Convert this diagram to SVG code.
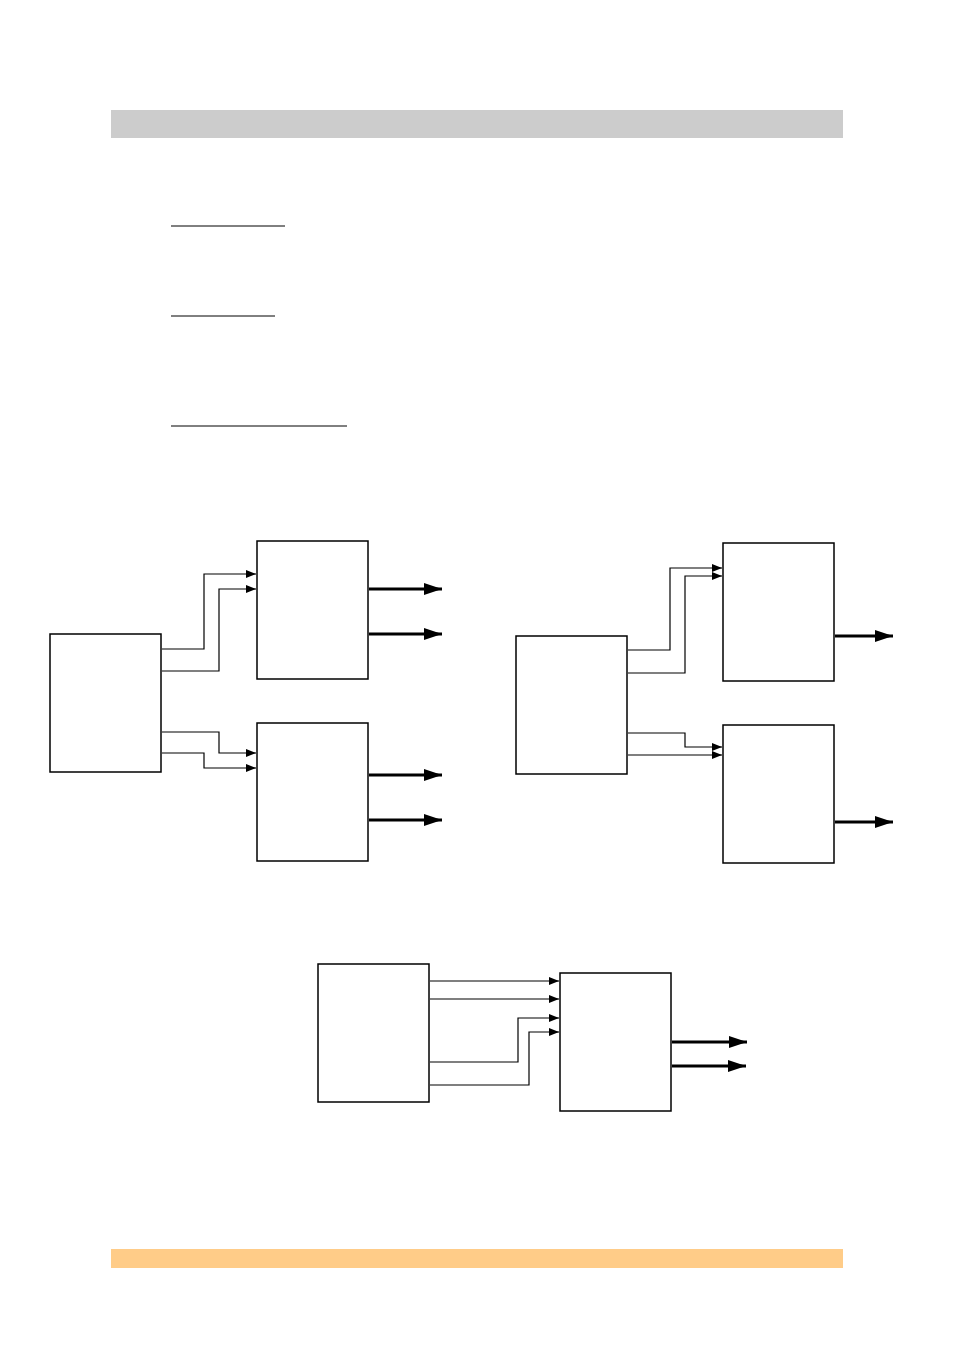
<svg xmlns="http://www.w3.org/2000/svg" width="954" height="1350" viewBox="0 0 954 1350">
<defs>
<marker id="a" markerWidth="10" markerHeight="8" refX="10" refY="4" orient="auto" markerUnits="userSpaceOnUse"><path d="M0,0L10,4L0,8z" fill="#000"/></marker>
<marker id="b" markerWidth="18" markerHeight="12" refX="18" refY="6" orient="auto" markerUnits="userSpaceOnUse"><path d="M0,0L18,6L0,12z" fill="#000"/></marker>
<style>.n{fill:#fff;stroke:#000;stroke-width:1.5}.t{fill:none;stroke:#000;stroke-width:1.2;marker-end:url(#a)}.k{fill:none;stroke:#000;stroke-width:3;marker-end:url(#b)}.u{stroke:#000;stroke-width:1}</style>
</defs>
<rect x="111" y="110" width="732" height="28" fill="#cccccc"/>
<rect x="111" y="1249" width="732" height="19" fill="#ffcc88"/>
<line class="u" x1="171" y1="226" x2="285" y2="226"/>
<line class="u" x1="171" y1="316" x2="275" y2="316"/>
<line class="u" x1="171" y1="426" x2="347" y2="426"/>
<g id="n1"><rect class="n" x="50" y="634" width="111" height="138"/></g>
<g id="n2"><rect class="n" x="257" y="541" width="111" height="138"/></g>
<g id="n3"><rect class="n" x="257" y="723" width="111" height="138"/></g>
<g id="n4"><rect class="n" x="516" y="636" width="111" height="138"/></g>
<g id="n5"><rect class="n" x="723" y="543" width="111" height="138"/></g>
<g id="n6"><rect class="n" x="723" y="725" width="111" height="138"/></g>
<g id="n7"><rect class="n" x="318" y="964" width="111" height="138"/></g>
<g id="n8"><rect class="n" x="560" y="973" width="111" height="138"/></g>
<g id="connectors">
<path class="t" d="M162,649H204V574H256"/>
<path class="t" d="M162,671H219V589H256"/>
<path class="t" d="M162,732H219V753H256"/>
<path class="t" d="M162,753H204V768H256"/>
<path class="k" d="M369,589H442"/>
<path class="k" d="M369,634H442"/>
<path class="k" d="M369,775H442"/>
<path class="k" d="M369,820H442"/>
<path class="t" d="M628,650H670V568H722"/>
<path class="t" d="M628,673H685V576H722"/>
<path class="t" d="M628,733H685V747H722"/>
<path class="t" d="M628,755H722"/>
<path class="k" d="M835,636H893"/>
<path class="k" d="M835,822H893"/>
<path class="t" d="M430,981H559"/>
<path class="t" d="M430,999H559"/>
<path class="t" d="M430,1062H518V1018H559"/>
<path class="t" d="M430,1085H529V1032H559"/>
<path class="k" d="M672,1042H747"/>
<path class="k" d="M672,1066H746"/>
</g>
</svg>
